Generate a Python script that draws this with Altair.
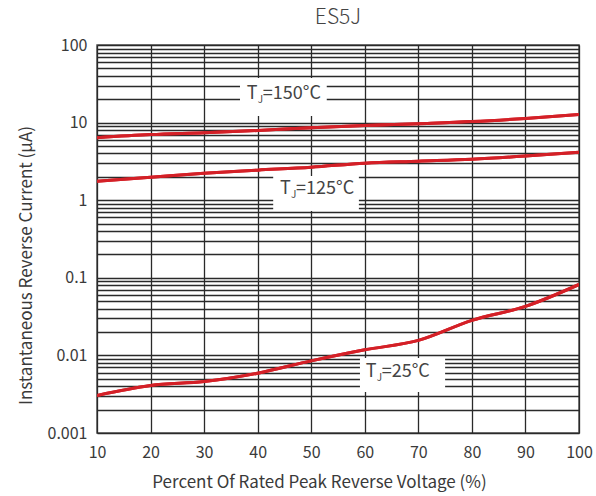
import altair as alt
import pandas as pd

# Percent of rated peak reverse voltage
voltage = [10, 20, 30, 40, 50, 60, 70, 80, 90, 100]
# Reverse current (uA) per junction temperature
i_150 = [6.4, 7.0, 7.4, 7.9, 8.6, 9.2, 9.7, 10.3, 11.3, 12.7]
i_125 = [1.76, 1.98, 2.23, 2.44, 2.66, 3.0, 3.18, 3.37, 3.7, 4.15]
i_25 = [0.00305, 0.0041, 0.0046, 0.0059, 0.0085, 0.0118, 0.0156, 0.0283, 0.0428, 0.082]

# Curve labels
label_temp = ["=150°C", "=125°C", "=25°C"]
label_x = [44.7, 50.9, 66.9]
label_y = [23.4, 1.39, 0.0061]
box_x1 = [36.7, 42.9, 59.1]
box_x2 = [52.9, 58.9, 75.0]
box_y1 = [12.2, 0.726, 0.00338]
box_y2 = [37.6, 2.05, 0.00925]

y_ticks = []
for e in [-3, -2, -1, 0, 1]:
    for m in range(1, 10):
        y_ticks.append(round(m * 10 ** e, 6))
y_ticks.append(100)

FONT = "Noto Sans CJK SC"
RED = "#d42027"
TXT = "#3a3a3a"

rows = []
for name, ser in [("150", i_150), ("125", i_125), ("25", i_25)]:
    for v, c in zip(voltage, ser):
        rows.append({"v": v, "i": c, "s": name})
df = pd.DataFrame(rows)

lab = pd.DataFrame({"t": label_temp, "x": label_x, "y": label_y,
                    "x1": box_x1, "x2": box_x2, "y1": box_y1, "y2": box_y2})

xs = alt.Scale(domain=[10, 100], nice=False)
ys = alt.Scale(type="log", domain=[0.001, 100], nice=False)

x_axis = alt.Axis(values=list(range(10, 101, 10)), grid=True, ticks=False,
                  title="Percent Of Rated Peak Reverse Voltage (%)",
                  labelFontSize=16, titleFontSize=17, labelPadding=11, titlePadding=14,
                  titleX=222, titleAnchor="middle",
                  labelFont=FONT, titleFont=FONT, labelColor=TXT, titleColor=TXT,
                  titleFontWeight="normal", domain=False, labelFlush=False)
y_axis = alt.Axis(values=y_ticks, grid=True, ticks=False,
                  labelExpr="abs(round(log(datum.value)/LN10) - log(datum.value)/LN10) < 1e-6 ? format(datum.value, '~g') : ''",
                  labelOverlap=False, labelFlush=False,
                  title="Instantaneous Reverse Current (\u03bcA)",
                  titleY=220,
                  labelFontSize=16, titleFontSize=17, labelPadding=10, titlePadding=12,
                  labelFont=FONT, titleFont=FONT, labelColor=TXT, titleColor=TXT,
                  titleFontWeight="normal", domain=False)

lines = alt.Chart(df).mark_line(color=RED, strokeWidth=3, interpolate="monotone", clip=True).encode(
    x=alt.X("v:Q", scale=xs, axis=x_axis),
    y=alt.Y("i:Q", scale=ys, axis=y_axis),
    detail="s:N",
)

boxes = alt.Chart(lab).mark_rect(color="white").encode(
    x=alt.X("x1:Q", scale=xs), x2="x2:Q",
    y=alt.Y("y1:Q", scale=ys), y2="y2:Q",
)

base_t = alt.Chart(lab)
t_T = base_t.mark_text(text="T", align="left", baseline="middle", fontSize=18,
                       font=FONT, color="#444", dx=-36).encode(
    x=alt.X("x:Q", scale=xs), y=alt.Y("y:Q", scale=ys))
t_J = base_t.mark_text(text="J", align="left", baseline="middle", fontSize=10,
                       font=FONT, color="#444", dx=-25, dy=6).encode(
    x=alt.X("x:Q", scale=xs), y=alt.Y("y:Q", scale=ys))
t_rest = base_t.mark_text(align="left", baseline="middle", fontSize=18,
                          font=FONT, color="#444", dx=-20).encode(
    x=alt.X("x:Q", scale=xs), y=alt.Y("y:Q", scale=ys), text="t:N")

chart = alt.layer(lines, boxes, lines, t_T, t_J, t_rest).properties(
    width=482, height=388,
    title=alt.TitleParams("ES5J", fontSize=21, font=FONT, fontWeight=300,
                          color="#444", offset=9),
    autosize=alt.AutoSizeParams(type="none"),
    padding={"left": 97, "top": 45, "right": 17, "bottom": 63},
).configure_axis(
    gridColor="#2a2a2a", gridWidth=1.3, gridOpacity=1,
).configure_view(
    stroke="#555", strokeWidth=1.5,
)

chart.save("out.html", embed_options={"renderer": "svg", "actions": False})
